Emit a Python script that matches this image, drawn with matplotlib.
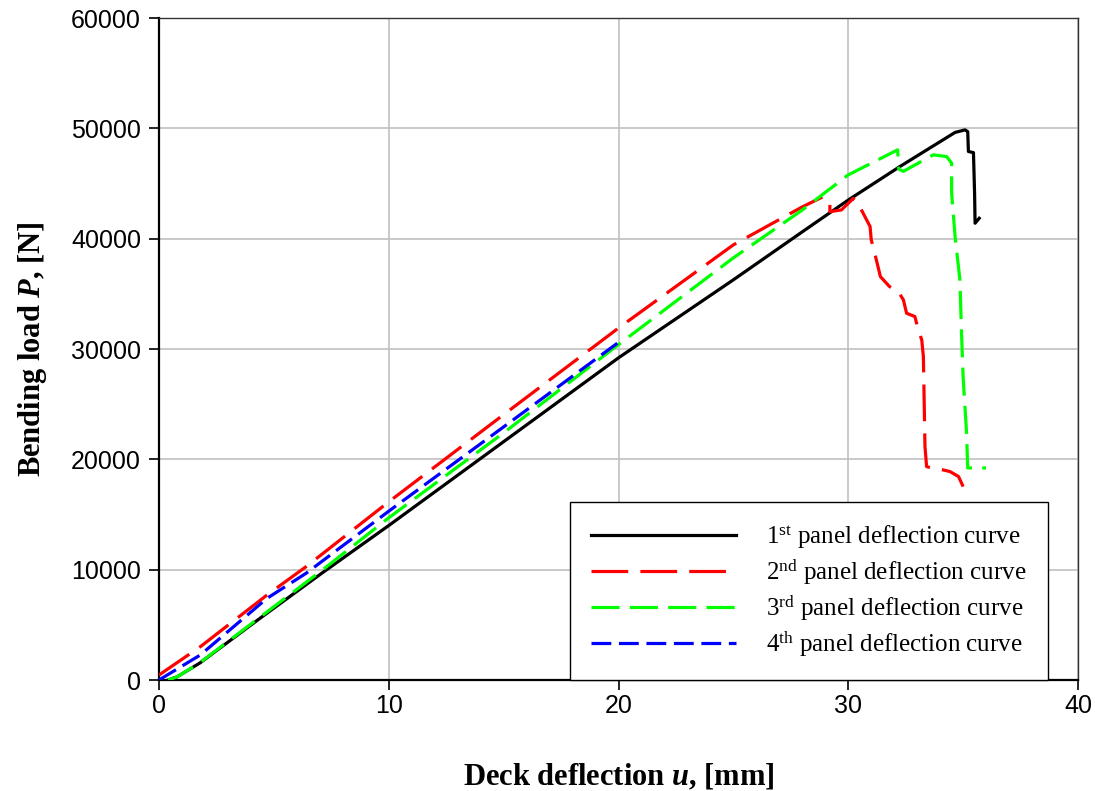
import matplotlib
matplotlib.use("Agg")
import matplotlib.pyplot as plt

# ---- data ----
x1 = [0.4, 0.8, 1.8, 4.4, 7.1, 10.0, 15.0, 20.0, 25.0, 28.0, 30.0, 32.25, 34.65, 35.08, 35.2, 35.23, 35.45, 35.5, 35.52, 35.7]
y1 = [0, 300, 1570, 5600, 9700, 14000, 21600, 29200, 36270, 40620, 43500, 46540, 49630, 49860, 49700, 47900, 47800, 44000, 41400, 41850]

x2 = [0.0, 1.8, 4.7, 6.4, 10.0, 15.0, 20.0, 25.0, 28.0, 28.92, 29.2, 29.2, 29.7, 30.22, 30.44, 30.5, 30.95, 31.0, 31.15,
      31.4, 31.8, 32.18, 32.4, 32.54, 32.9, 33.05, 33.2, 33.27, 33.34, 33.41, 33.7, 34.13, 34.43, 34.8, 35.0]
y2 = [450, 3020, 7700, 10270, 16150, 24050, 31900, 39440, 42880, 43820, 43200, 42450, 42600, 43650, 43200, 42900, 41100, 39900, 38700,
      36560, 35650, 35200, 34450, 33240, 32940, 31730, 30820, 29310, 21150, 19340, 19190, 19040, 18890, 18440, 17530]

x3 = [0.4, 0.8, 1.8, 4.4, 7.1, 10.0, 15.0, 20.0, 25.0, 28.0, 30.0, 32.15, 32.2, 32.4, 33.7, 34.28, 34.5, 34.5, 34.65, 34.86, 34.93,
      35.0, 35.15, 35.2, 36.0]
y3 = [0, 300, 1600, 5700, 9950, 14700, 22400, 30400, 38260, 42600, 45780, 48050, 46300, 46100, 47600, 47440, 46850, 44130, 40200, 36260, 31460,
      27470, 22390, 19220, 19220]

x4 = [0.0, 1.8, 4.7, 6.4, 10.0, 15.0, 20.0]
y4 = [0, 2270, 7400, 9670, 15300, 22940, 30600]

labels = [r"1$^{\mathrm{st}}$ panel deflection curve",
          r"2$^{\mathrm{nd}}$ panel deflection curve",
          r"3$^{\mathrm{rd}}$ panel deflection curve",
          r"4$^{\mathrm{th}}$ panel deflection curve"]
x_ticks = [0, 10, 20, 30, 40]
y_ticks = [0, 10000, 20000, 30000, 40000, 50000, 60000]

plt.rcParams['mathtext.fontset'] = 'custom'
plt.rcParams['mathtext.rm'] = 'Liberation Serif'
plt.rcParams['mathtext.it'] = 'Liberation Serif:italic'
plt.rcParams['mathtext.bf'] = 'Liberation Serif:bold:italic'

fig = plt.figure(figsize=(10.95, 7.91), dpi=100)
ax = fig.add_axes([159/1095, 1 - 680/791, (1078-159)/1095, (680-18)/791])

lw = 2.3
ax.plot(x1, y1, color='black', lw=lw, label=labels[0], zorder=3)
ax.plot(x2, y2, color='#FF0000', lw=lw, dashes=(11.5, 3.8), label=labels[1], zorder=4)
ax.plot(x3, y3, color='#00FF00', lw=lw, dashes=(8.8, 3.2), label=labels[2], zorder=5)
ax.plot(x4, y4, color='#0000FF', lw=lw, dashes=(6.2, 2.4), label=labels[3], zorder=6)

ax.set_xlim(0, 40)
ax.set_ylim(0, 60000)
ax.set_xticks(x_ticks)
ax.set_yticks(y_ticks)
ax.set_xticklabels([str(v) for v in x_ticks], fontfamily='Liberation Sans', fontsize=18)
ax.set_yticklabels([str(v) for v in y_ticks], fontfamily='Liberation Sans', fontsize=18)
ax.tick_params(direction='out', length=7, width=1.2, top=False, right=False)
ax.tick_params(axis='x', pad=3)
ax.tick_params(axis='y', pad=6)

ax.grid(True, color='#C0C0C0', lw=1.2, zorder=0)
ax.set_axisbelow(True)

for s in ['left', 'bottom']:
    ax.spines[s].set_linewidth(1.6)
    ax.spines[s].set_color('black')
for s in ['top', 'right']:
    ax.spines[s].set_linewidth(1.0)
    ax.spines[s].set_color('#333333')

ax.set_xlabel("Deck deflection $\\mathbf{u}$, [mm]",
              fontfamily='Liberation Serif', fontweight='bold', fontsize=22, labelpad=32)
ax.set_ylabel("Bending load $\\mathbf{P}$, [N]",
              fontfamily='Liberation Serif', fontweight='bold', fontsize=22, labelpad=16)

leg = ax.legend(loc='lower left', bbox_to_anchor=(0.447, 0.0), borderaxespad=0,
                prop={'family': 'Liberation Serif', 'size': 18},
                handlelength=5.8, handletextpad=1.2, labelspacing=0.26,
                borderpad=0.85, fancybox=False, framealpha=1, edgecolor='black')
leg.get_frame().set_linewidth(1.0)
leg.set_zorder(10)

fig.savefig("out.png", dpi=100)
